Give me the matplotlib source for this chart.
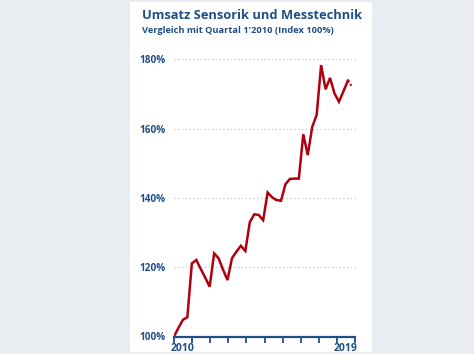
import matplotlib
matplotlib.use("Agg")
import matplotlib.pyplot as plt
from matplotlib.patches import Rectangle
import numpy as np

plt.rcParams['font.family'] = ['Open Sans', 'DejaVu Sans']

# quarterly index values, Q1 2010 = 100
quarters = list(range(41))
index_values = [100.0, 102.5, 104.8, 105.6, 121.1, 122.1, 119.5, 117.0, 114.4, 124.0,
                122.6, 119.3, 116.3, 122.6, 124.5, 126.2, 124.7, 133.0, 135.3, 135.1,
                133.6, 141.6, 140.2, 139.4, 139.2, 144.0, 145.5, 145.6, 145.6, 158.4,
                152.4, 160.5, 164.0, 178.4, 171.4, 174.7, 170.2, 167.8, 170.8, 173.9,
                172.0]
y_ticks = [100, 120, 140, 160, 180]
y_labels = ['100%', '120%', '140%', '160%', '180%']
year_labels = ['2010', '', '', '', '', '', '', '', '', '2019']

title = 'Umsatz Sensorik und Messtechnik'
subtitle = "Vergleich mit Quartal 1'2010 (Index 100%)"

blue = '#1f4f86'
red = '#b0000f'

fig = plt.figure(figsize=(4.74, 3.54), dpi=100)
fig.patch.set_facecolor('#e9edf1')
fig.patches.append(Rectangle((130 / 474, 0.005), 242 / 474, 0.99,
                             transform=fig.transFigure, facecolor='white',
                             edgecolor='none', zorder=-5))

ax = fig.add_axes([174 / 474, 1 - 336.5 / 354, 181 / 474, 277 / 354])
ax.set_facecolor('none')
ax.set_zorder(2)

x_end = 40.6
solid_x, solid_y = quarters[:-1], index_values[:-1]
ax.plot(solid_x, solid_y, color=red, lw=1.8, solid_joinstyle='miter', zorder=3)
ax.plot(quarters[-2:], index_values[-2:], color=red, lw=1.5, ls=(0, (1, 1)), zorder=3)

ax.set_xlim(0, x_end)
ax.set_ylim(100, 180)

ax.set_yticks(y_ticks)
ax.set_yticklabels(y_labels)
for v in y_ticks[1:]:
    ax.axhline(v, color='#c8c8c8', lw=0.9, ls=(0, (1, 2)), zorder=1, clip_on=False)

year_edges = np.linspace(0, x_end, 11)
ax.set_xticks(year_edges)
ax.set_xticklabels([''] * 11)
ax.set_xticks((year_edges[:-1] + year_edges[1:]) / 2, minor=True)
ax.set_xticklabels(year_labels, minor=True)

ax.tick_params(axis='x', which='major', direction='out', length=4, width=1.3, color=blue)
ax.tick_params(axis='x', which='minor', length=0, pad=4.5, labelsize=7.5, labelcolor=blue)
ax.tick_params(axis='y', length=0, pad=6, labelsize=7.2, labelcolor=blue)
for lab in ax.get_xticklabels(minor=True) + ax.get_yticklabels():
    lab.set_fontweight('bold')

for side in ['top', 'right', 'left']:
    ax.spines[side].set_visible(False)
ax.spines['bottom'].set_color(blue)
ax.spines['bottom'].set_linewidth(1.6)
ax.spines['bottom'].set_zorder(4)

fig.text(142 / 474, 1 - 19 / 354, title, fontsize=9.3, fontweight='bold', color=blue)
fig.text(142 / 474, 1 - 33 / 354, subtitle, fontsize=6.7, fontweight='bold', color=blue)

fig.savefig('out.png', dpi=100, facecolor=fig.get_facecolor())
